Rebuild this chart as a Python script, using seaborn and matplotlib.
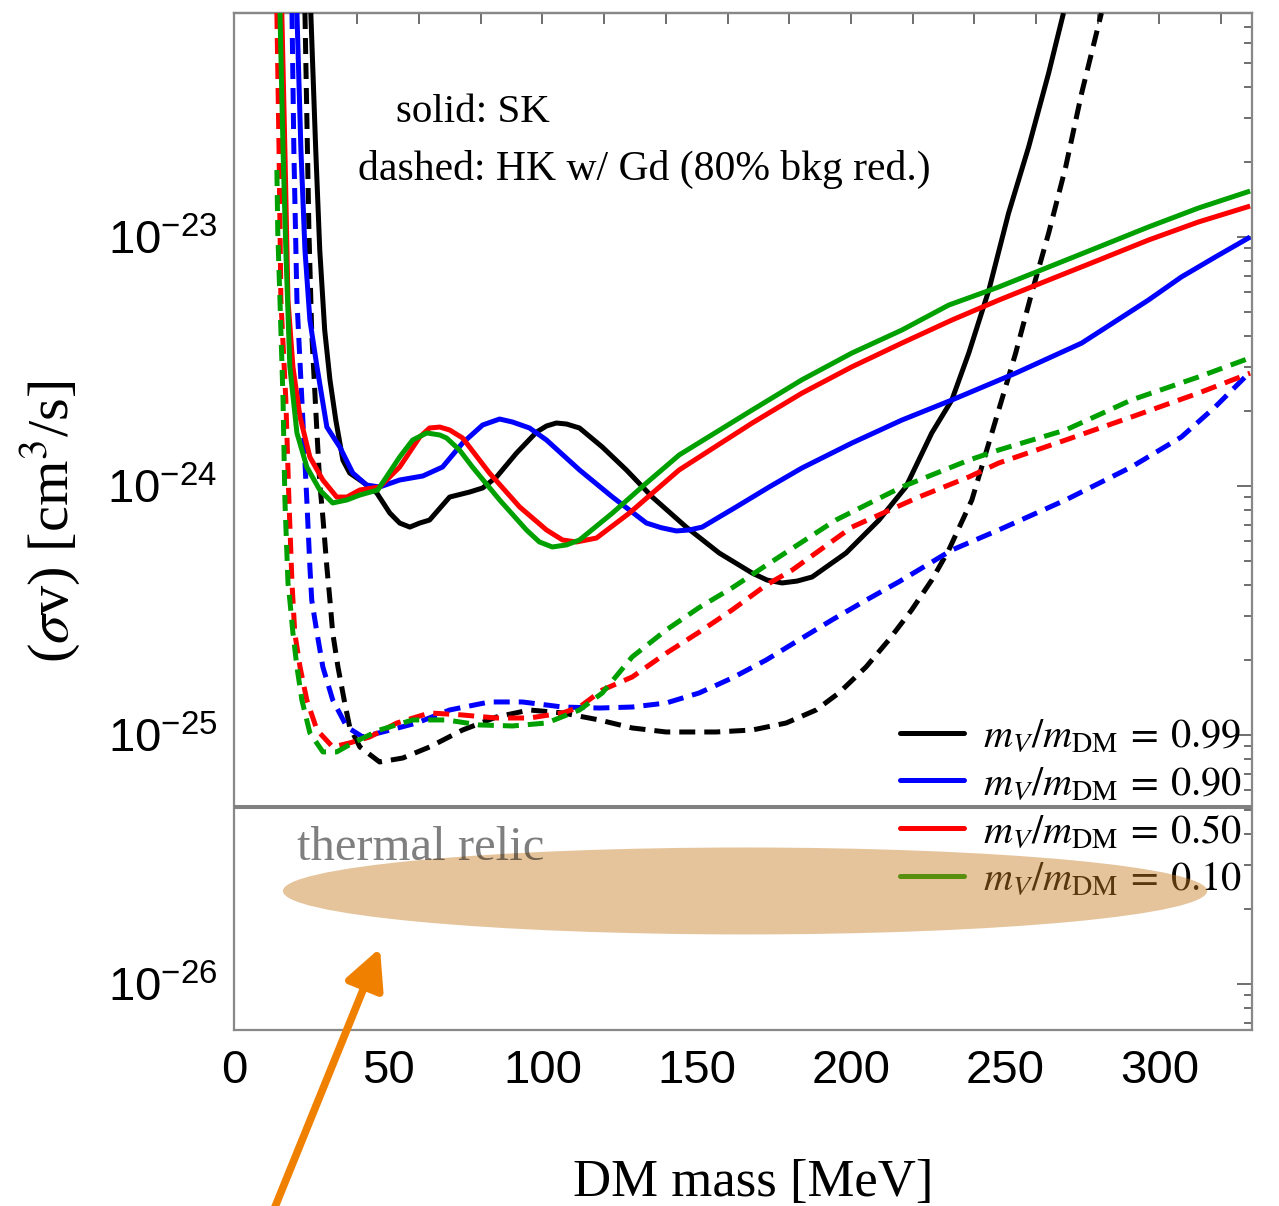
import numpy as np
import pandas as pd
import matplotlib
matplotlib.use("Agg")
import matplotlib.pyplot as plt
import seaborn as sns
from matplotlib.patches import Ellipse, FancyArrowPatch
from matplotlib.lines import Line2D
from matplotlib.ticker import MultipleLocator, LogLocator, NullFormatter, NullLocator

# ---------------- data ----------------
ratios = ["0.99", "0.90", "0.50", "0.10"]
colors = ["#000000", "#0000ff", "#ff0000", "#00a000"]

# SK (solid)
sk_099_x = [24.9, 26.5, 27.8, 29.4, 31.1, 33.0, 35.3, 37.5, 41.7, 46.3, 50.5, 53.7, 57.0, 60.2, 63.4,
            69.9, 76.4, 80.6, 85.1, 91.6, 98.1, 101.3, 104.5, 107.8, 112.0, 119.4, 127.2, 135.6, 146.6,
            157.3, 168.0, 172.8, 177.7, 182.5, 187.4, 198.4, 209.1, 217.8, 226.2, 232.7, 238.2, 244.7,
            251.1, 257.6, 264.1, 268.9]
sk_099_y = [7.94e-23, 2.23e-23, 8.87e-24, 4.23e-24, 2.67e-24, 1.84e-24, 1.27e-24, 1.128e-24, 1.038e-24,
            9.37e-25, 7.79e-25, 7.10e-25, 6.84e-25, 7.10e-25, 7.30e-25, 9.03e-25, 9.46e-25, 9.82e-25,
            1.087e-24, 1.357e-24, 1.648e-24, 1.742e-24, 1.791e-24, 1.774e-24, 1.710e-24, 1.434e-24,
            1.160e-24, 9.03e-25, 6.84e-25, 5.38e-25, 4.47e-25, 4.19e-25, 4.08e-25, 4.15e-25, 4.31e-25,
            5.38e-25, 7.30e-25, 9.91e-25, 1.633e-24, 2.215e-24, 3.42e-24, 6.12e-24, 1.248e-23, 2.30e-23,
            4.56e-23, 7.94e-23]

sk_090_x = [20.4, 21.7, 23.0, 24.6, 26.9, 30.1, 34.3, 38.5, 43.0, 47.2, 53.7, 61.2, 67.6, 74.1, 80.6,
            86.1, 90.3, 95.8, 101.3, 112.0, 122.7, 133.7, 138.5, 143.4, 147.6, 151.8, 162.8, 173.5,
            184.1, 200.3, 216.5, 232.7, 253.4, 274.8, 296.4, 307.1, 318.1, 329.4]
sk_090_y = [7.94e-23, 2.23e-23, 8.87e-24, 4.64e-24, 3.01e-24, 1.725e-24, 1.434e-24, 1.128e-24, 1.009e-24,
            9.91e-25, 1.057e-24, 1.097e-24, 1.192e-24, 1.488e-24, 1.758e-24, 1.858e-24, 1.807e-24,
            1.710e-24, 1.530e-24, 1.160e-24, 9.03e-25, 7.10e-25, 6.80e-25, 6.60e-25, 6.66e-25, 6.84e-25,
            8.24e-25, 9.91e-25, 1.181e-24, 1.488e-24, 1.84e-24, 2.215e-24, 2.84e-24, 3.75e-24, 5.58e-24,
            6.91e-24, 8.31e-24, 1.0e-23]

sk_050_x = [15.5, 16.5, 17.5, 19.1, 21.4, 24.6, 28.8, 33.3, 36.6, 40.8, 47.2, 53.7, 60.2, 63.4, 66.7,
            69.9, 74.1, 82.8, 92.6, 101.3, 106.5, 111.0, 117.5, 128.2, 144.3, 168.0, 184.1, 200.3,
            216.5, 232.7, 247.9, 264.1, 280.3, 296.4, 312.6, 329.4]
sk_050_y = [7.94e-23, 2.23e-23, 5.58e-24, 3.01e-24, 1.893e-24, 1.307e-24, 1.057e-24, 9.03e-25, 9.03e-25,
            9.64e-25, 9.91e-25, 1.192e-24, 1.573e-24, 1.710e-24, 1.725e-24, 1.679e-24, 1.559e-24,
            1.128e-24, 8.24e-25, 6.66e-25, 6.07e-25, 5.96e-25, 6.18e-25, 7.79e-25, 1.160e-24, 1.791e-24,
            2.36e-24, 3.01e-24, 3.75e-24, 4.64e-24, 5.58e-24, 6.72e-24, 8.08e-24, 9.72e-24, 1.149e-23,
            1.332e-23]

sk_010_x = [14.9, 15.9, 16.8, 18.1, 20.4, 23.6, 27.8, 32.0, 36.6, 40.8, 46.6, 53.7, 57.9, 62.5, 66.7,
            68.9, 73.1, 77.3, 86.1, 94.8, 99.0, 103.2, 107.8, 112.0, 122.7, 133.7, 144.3, 168.0, 184.1,
            200.3, 216.5, 231.7, 247.9, 264.1, 280.3, 296.4, 312.6, 329.4]
sk_010_y = [7.94e-23, 2.23e-23, 8.87e-24, 3.01e-24, 1.633e-24, 1.192e-24, 9.64e-25, 8.55e-25, 8.79e-25,
            9.20e-25, 9.64e-25, 1.307e-24, 1.530e-24, 1.633e-24, 1.603e-24, 1.559e-24, 1.395e-24,
            1.192e-24, 8.79e-25, 6.66e-25, 5.96e-25, 5.69e-25, 5.80e-25, 6.07e-25, 7.79e-25, 1.028e-24,
            1.332e-24, 2.02e-24, 2.67e-24, 3.42e-24, 4.23e-24, 5.33e-24, 6.30e-24, 7.58e-24, 9.12e-24,
            1.097e-23, 1.307e-23, 1.530e-23]

# HK w/ Gd (dashed)
hk_099_x = [23.0, 24.3, 25.2, 26.9, 27.8, 28.8, 30.1, 31.1, 32.0, 33.7, 35.9, 37.5, 40.8, 47.2, 54.7,
            63.4, 74.1, 85.1, 95.8, 106.5, 118.4, 129.1, 140.1, 156.3, 168.0, 179.0, 188.7, 196.1,
            204.9, 212.3, 219.7, 226.2, 231.7, 239.2, 247.9, 253.4, 258.6, 264.1, 269.6, 274.8, 281.2]
hk_099_y = [7.94e-23, 1.038e-23, 4.12e-24, 1.633e-24, 1.028e-24, 7.51e-25, 4.73e-25, 3.48e-25, 2.57e-25,
            1.876e-25, 1.344e-25, 1.077e-25, 8.95e-26, 7.79e-26, 8.08e-26, 8.95e-26, 1.047e-25, 1.181e-25,
            1.260e-25, 1.226e-25, 1.149e-25, 1.067e-25, 1.028e-25, 1.028e-25, 1.047e-25, 1.117e-25,
            1.260e-25, 1.475e-25, 1.876e-25, 2.41e-25, 3.18e-25, 4.19e-25, 5.53e-25, 8.79e-25, 2.02e-24,
            3.42e-24, 5.96e-24, 1.038e-23, 1.91e-23, 3.79e-23, 7.94e-23]

hk_090_x = [18.8, 19.4, 20.4, 22.0, 23.6, 24.6, 25.2, 26.9, 28.8, 32.0, 36.6, 41.7, 48.2, 59.2, 69.9,
            82.8, 93.5, 106.5, 118.4, 129.1, 140.1, 150.8, 161.5, 172.5, 183.2, 193.9, 204.9, 215.5,
            232.7, 247.9, 269.6, 290.9, 307.1, 318.1, 329.4]
hk_090_y = [7.94e-23, 2.23e-23, 5.58e-24, 2.215e-24, 8.79e-25, 4.73e-25, 3.48e-25, 2.57e-25, 1.876e-25,
            1.382e-25, 1.077e-25, 9.82e-26, 1.028e-25, 1.117e-25, 1.260e-25, 1.357e-25, 1.357e-25,
            1.295e-25, 1.283e-25, 1.295e-25, 1.344e-25, 1.475e-25, 1.694e-25, 2.00e-25, 2.41e-25,
            2.90e-25, 3.48e-25, 4.12e-25, 5.53e-25, 6.66e-25, 8.79e-25, 1.192e-24, 1.573e-24, 2.08e-24,
            2.87e-24]

hk_050_x = [13.9, 14.6, 15.2, 16.8, 17.8, 18.8, 19.7, 21.4, 23.6, 26.9, 32.0, 37.5, 44.0, 52.8, 63.4,
            74.1, 85.1, 95.8, 106.5, 112.0, 119.4, 129.1, 140.1, 150.8, 161.5, 172.5, 181.0, 200.3,
            222.0, 238.2, 247.9, 269.6, 290.9, 312.6, 329.4]
hk_050_y = [7.94e-23, 2.23e-23, 5.58e-24, 2.215e-24, 8.79e-25, 4.08e-25, 2.57e-25, 1.876e-25, 1.382e-25,
            1.047e-25, 8.95e-26, 9.29e-26, 9.82e-26, 1.117e-25, 1.226e-25, 1.203e-25, 1.170e-25, 1.170e-25,
            1.226e-25, 1.295e-25, 1.516e-25, 1.710e-25, 2.13e-25, 2.59e-25, 3.18e-25, 4.00e-25, 4.60e-25,
            6.84e-25, 9.03e-25, 1.087e-24, 1.237e-24, 1.530e-24, 1.893e-24, 2.36e-24, 2.84e-24]

hk_010_x = [13.9, 14.2, 14.9, 15.9, 16.5, 17.5, 18.1, 19.1, 20.4, 22.0, 24.6, 28.8, 33.3, 38.5, 47.2,
            57.9, 68.9, 79.6, 90.3, 101.3, 112.0, 119.4, 129.1, 140.1, 150.8, 161.5, 172.5, 195.1,
            216.5, 238.2, 247.9, 269.6, 290.9, 312.6, 329.4]
hk_010_y = [1.858e-23, 1.038e-23, 5.58e-24, 2.215e-24, 8.79e-25, 4.08e-25, 3.48e-25, 2.57e-25, 1.876e-25,
            1.382e-25, 1.019e-25, 8.55e-26, 8.55e-26, 9.29e-26, 1.047e-25, 1.149e-25, 1.149e-25,
            1.097e-25, 1.087e-25, 1.117e-25, 1.260e-25, 1.475e-25, 2.06e-25, 2.64e-25, 3.25e-25,
            3.90e-25, 4.80e-25, 7.30e-25, 9.91e-25, 1.27e-24, 1.395e-24, 1.679e-24, 2.215e-24, 2.74e-24,
            3.27e-24]

thermal_relic_line = 5.14e-26

x_ticks = [0, 50, 100, 150, 200, 250, 300]
top_ticks = [0, 20, 40, 60, 80, 100, 120, 140, 160, 180, 200, 220, 240, 260, 280, 300, 320]
legend_labels = [r"$m_V/m_{\rm DM}\:=\:0.99$", r"$m_V/m_{\rm DM}\:=\:0.90$",
                 r"$m_V/m_{\rm DM}\:=\:0.50$", r"$m_V/m_{\rm DM}\:=\:0.10$"]

# ---------------- long-form table ----------------
series = {
    ("0.99", "SK"): (sk_099_x, sk_099_y), ("0.90", "SK"): (sk_090_x, sk_090_y),
    ("0.50", "SK"): (sk_050_x, sk_050_y), ("0.10", "SK"): (sk_010_x, sk_010_y),
    ("0.99", "HK"): (hk_099_x, hk_099_y), ("0.90", "HK"): (hk_090_x, hk_090_y),
    ("0.50", "HK"): (hk_050_x, hk_050_y), ("0.10", "HK"): (hk_010_x, hk_010_y),
}
frames = []
for (r, det), (xs, ys) in series.items():
    frames.append(pd.DataFrame({"mass": xs, "sigv": ys, "ratio": r, "det": det}))
df = pd.concat(frames, ignore_index=True)

# ---------------- style ----------------
sns.set_theme(style="white")
plt.rcParams["font.family"] = ["Liberation Sans", "DejaVu Sans"]
plt.rcParams["mathtext.fontset"] = "stix"
for key in ["text.color", "axes.labelcolor", "xtick.labelcolor", "ytick.labelcolor"]:
    plt.rcParams[key] = "black"
serif = ["Liberation Serif", "DejaVu Serif"]

LW = 3.6
fig = plt.figure(figsize=(12.79, 12.06), dpi=100)
ax = fig.add_axes([0.18296, 0.14594, 0.7959, 0.8433])

palette = dict(zip(ratios, colors))
sns.lineplot(data=df, x="mass", y="sigv", hue="ratio", style="det",
             hue_order=ratios, style_order=["HK", "SK"], palette=palette,
             dashes={"SK": "", "HK": (3.2, 1.8)}, estimator=None, sort=False,
             linewidth=LW, legend=False, ax=ax, zorder=4)
for ln in ax.lines:
    ln.set_linewidth(LW)
    ln.set_solid_capstyle("butt")
    ln.set_dash_capstyle("butt")
    ln.set_solid_joinstyle("round")

ax.set_yscale("log")
ax.set_xlim(0, 330)
ax.set_ylim(10 ** -26.185, 10 ** -22.1)

ax.set_xticks(x_ticks)
ax.xaxis.set_minor_locator(MultipleLocator(10))
ax.yaxis.set_major_locator(LogLocator(base=10))
ax.yaxis.set_minor_locator(LogLocator(base=10, subs=np.arange(2, 10)))
ax.yaxis.set_minor_formatter(NullFormatter())

ax.tick_params(which="both", direction="in", top=False, right=True, color="#555555", width=1.2,
               labelcolor="black")
ax.tick_params(which="major", length=11, labelsize=34)
ax.tick_params(which="minor", length=6)
ax.tick_params(axis="x", which="major", pad=14)
ax.tick_params(axis="y", which="major", pad=12)
for sp in ax.spines.values():
    sp.set_color("#888888")
    sp.set_linewidth(1.6)

secax = ax.secondary_xaxis("top")
secax.set_xticks(top_ticks)
secax.xaxis.set_minor_locator(NullLocator())
secax.tick_params(direction="in", length=8, width=1.2, color="#555555", labeltop=False)
for sp in secax.spines.values():
    sp.set_color("#888888")
    sp.set_linewidth(1.6)

ax.set_xlabel("DM mass [MeV]", fontfamily=serif, fontsize=38)
ax.set_ylabel(r"($\sigma$v) [cm$^3$/s]", fontfamily=serif, fontsize=42)
ax.xaxis.set_label_coords(0.51, -0.127)
ax.yaxis.set_label_coords(-0.148, 0.5)

# thermal relic line
ax.axhline(thermal_relic_line, color="#808080", lw=2.9, zorder=3)

# annotations
ax.text(0.2348, 0.8928, "solid: SK", transform=ax.transAxes, ha="center", va="baseline",
        fontfamily=serif, fontsize=29.5)
ax.text(0.4028, 0.8358, "dashed: HK w/ Gd (80% bkg red.)", transform=ax.transAxes, ha="center",
        va="baseline", fontfamily=serif, fontsize=30)

# legend
handles = [Line2D([0], [0], color=c, lw=LW) for c in colors]
leg = ax.legend(handles, legend_labels, loc="lower right", bbox_to_anchor=(0.99, 0.13),
                frameon=False, fontsize=29, handlelength=1.6, handletextpad=0.45,
                labelspacing=0.24, borderpad=0, borderaxespad=0)
leg.set_zorder(5)

# thermal relic blob
blob = Ellipse((0.502, 0.1367), 0.908, 0.0855, transform=ax.transAxes,
               facecolor=(198 / 255, 124 / 255, 33 / 255), alpha=0.45, edgecolor="none", zorder=6)
ax.add_patch(blob)
ax.text(0.0619, 0.1672, "thermal relic", transform=ax.transAxes, ha="left", va="baseline",
        fontfamily=serif, fontsize=35, color="black", alpha=0.5, zorder=7)

# orange arrow
arrow = FancyArrowPatch((0.2134, -0.005), (0.2971, 0.2139), transform=fig.transFigure,
                        arrowstyle="-|>,head_length=1.2,head_width=0.6", color="#f08000",
                        lw=5.5, shrinkA=0, shrinkB=0, mutation_scale=20)
fig.add_artist(arrow)

fig.savefig("out.png", dpi=100)
